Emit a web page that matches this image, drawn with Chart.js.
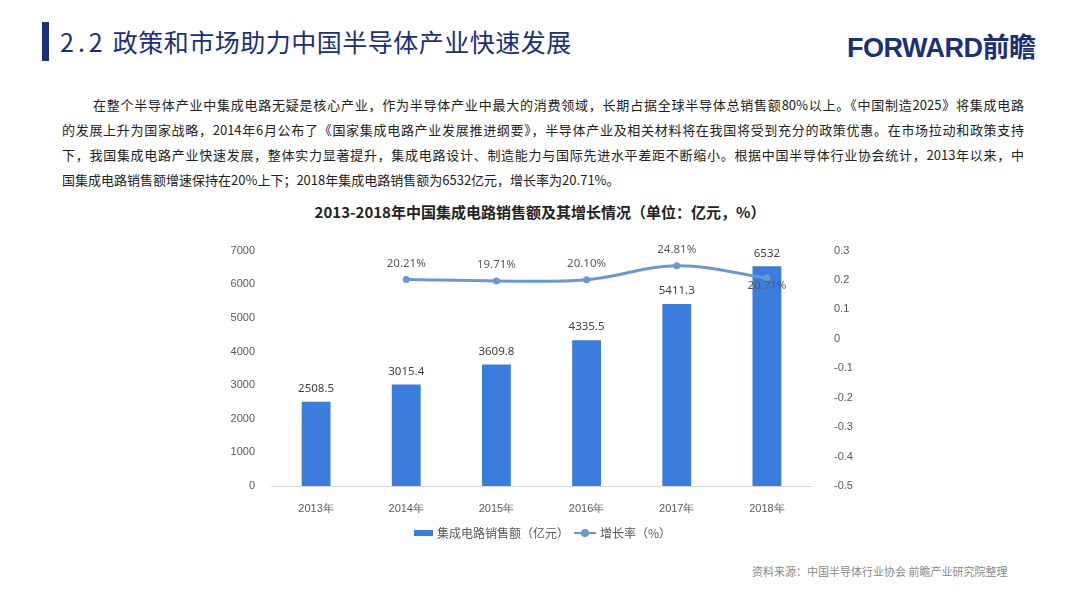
<!DOCTYPE html>
<html>
<head>
<meta charset="utf-8">
<script src="https://cdn.jsdelivr.net/npm/chart.js@4.4.0/dist/chart.umd.min.js"></script>
<style>
  html, body { margin: 0; padding: 0; background: #ffffff; }
  body { width: 1080px; height: 595px; position: relative; overflow: hidden;
         font-family: "Noto Sans CJK SC", "Noto Sans", sans-serif; }
  .bar-mark { position: absolute; left: 42px; top: 22px; width: 7px; height: 39px; background: #1b2f7a; }
  .page-title { position: absolute; left: 60px; top: 23px; font-size: 25px; color: #1b2f7a; letter-spacing: 0.5px; }
  .page-title .num { letter-spacing: 4px; margin-right: 6px; }
  .logo { position: absolute; left: 847px; top: 26px; font-size: 27px; font-weight: 700; color: #1b2f7a;
          font-family: "Liberation Sans", "Noto Sans CJK SC", sans-serif; letter-spacing: -0.5px; }
  .intro { position: absolute; left: 62px; top: 92px; width: 962px; font-size: 13px; line-height: 25px; color: #222; }
  .intro div { text-align: justify; text-align-last: justify; white-space: nowrap; }
  .intro div.first { padding-left: 31px; }
  .intro div.last { text-align-last: left; }
  .chart-title { position: absolute; left: 0; width: 1080px; top: 201px; text-align: center;
                 font-size: 15px; font-weight: 700; color: #222; }
  #wrap { position: absolute; left: 200px; top: 230px; width: 680px; height: 296px; }
  .legend { position: absolute; top: 524px; font-size: 12px; color: #595959; display: flex; align-items: center; }
  .sw-bar { display: inline-block; width: 19px; height: 6px; background: #3b7ddd; margin-right: 4px; }
  .sw-line { display: inline-block; position: relative; width: 22px; height: 10px; margin-right: 4px; }
  .sw-line::before { content: ""; position: absolute; left: 0; right: 0; top: 4px; height: 2px; background: #6b98d2; }
  .sw-line::after { content: ""; position: absolute; left: 7px; top: 1px; width: 8px; height: 8px; border-radius: 50%; background: #6b98d2; }
  .source { position: absolute; left: 752px; top: 563px; font-size: 11px; color: #8a8a8a; }
</style>
</head>
<body>
<div class="bar-mark"></div>
<div class="page-title"><span class="num">2.2</span>政策和市场助力中国半导体产业快速发展</div>
<div class="logo">FORWARD前瞻</div>
<div class="intro">
  <div class="first">在整个半导体产业中集成电路无疑是核心产业，作为半导体产业中最大的消费领域，长期占据全球半导体总销售额80%以上。《中国制造2025》将集成电路</div>
  <div>的发展上升为国家战略，2014年6月公布了《国家集成电路产业发展推进纲要》，半导体产业及相关材料将在我国将受到充分的政策优惠。在市场拉动和政策支持</div>
  <div>下，我国集成电路产业快速发展，整体实力显著提升，集成电路设计、制造能力与国际先进水平差距不断缩小。根据中国半导体行业协会统计，2013年以来，中</div>
  <div class="last">国集成电路销售额增速保持在20%上下；2018年集成电路销售额为6532亿元，增长率为20.71%。</div>
</div>
<div class="chart-title">2013-2018年中国集成电路销售额及其增长情况（单位：亿元，%）</div>
<div id="wrap"><canvas id="chart"></canvas></div>
<div class="legend" style="left:414px;"><span class="sw-bar"></span>集成电路销售额（亿元）</div>
<div class="legend" style="left:574px;"><span class="sw-line"></span>增长率（%）</div>
<div class="source">资料来源：中国半导体行业协会 前瞻产业研究院整理</div>

<script>
// chart data
const years = ['2013年', '2014年', '2015年', '2016年', '2017年', '2018年'];
const sales = [2508.5, 3015.4, 3609.8, 4335.5, 5411.3, 6532];
const growth = [null, 0.2021, 0.1971, 0.2010, 0.2481, 0.2071];
const growthLabels = ['', '20.21%', '19.71%', '20.10%', '24.81%', '20.71%'];

const BAR_COLOR = '#3b7ddd';
const LINE_COLOR = '#6b98d2';
const TICK_COLOR = '#595959';

// simple value labels above bars and line points
const valueLabels = {
  id: 'valueLabels',
  afterDatasetsDraw(chart) {
    const ctx = chart.ctx;
    ctx.save();
    ctx.font = '11.5px "Noto Sans", "DejaVu Sans", sans-serif';
    ctx.fillStyle = '#404040';
    ctx.textAlign = 'center';
    ctx.textBaseline = 'middle';
    chart.getDatasetMeta(0).data.forEach((bar, i) => {
      ctx.fillText(String(sales[i]), bar.x, bar.y - 13);
    });
    ctx.fillStyle = TICK_COLOR;
    chart.getDatasetMeta(1).data.forEach((pt, i) => {
      if (growth[i] === null) return;
      // last label sits under the point in the original
      const dy = i === growth.length - 1 ? 8 : -16;
      ctx.fillText(growthLabels[i], pt.x, pt.y + dy);
    });
    ctx.restore();
  }
};

new Chart(document.getElementById('chart'), {
  type: 'bar',
  data: {
    labels: years,
    datasets: [
      {
        label: '集成电路销售额（亿元）',
        data: sales,
        backgroundColor: BAR_COLOR,
        barPercentage: 0.32,
        categoryPercentage: 1,
        yAxisID: 'y',
        order: 2,
      },
      {
        label: '增长率（%）',
        type: 'line',
        data: growth,
        borderColor: LINE_COLOR,
        backgroundColor: LINE_COLOR,
        borderWidth: 3,
        pointRadius: 3.5,
        pointBackgroundColor: LINE_COLOR,
        pointBorderWidth: 0,
        tension: 0.4,
        yAxisID: 'y1',
        order: 1,
      },
    ],
  },
  options: {
    responsive: true,
    maintainAspectRatio: false,
    animation: false,
    layout: { padding: { top: 8, bottom: 0, left: 0, right: 0 } },
    plugins: {
      legend: { display: false },
      tooltip: { enabled: false },
    },
    scales: {
      x: {
        grid: { display: false },
        border: { display: true, color: '#d9d9d9', width: 1 },
        ticks: { color: TICK_COLOR, font: { size: 11 }, padding: 8 },
        afterFit(scale) { scale.height = 40; },
      },
      y: {
        position: 'left',
        min: 0,
        max: 7000,
        grid: { display: false },
        border: { display: false },
        ticks: { stepSize: 1000, color: TICK_COLOR, font: { size: 11 }, padding: 8,
                 callback: v => String(v) },
        afterFit(scale) { scale.width = 71; },
      },
      y1: {
        position: 'right',
        min: -0.5,
        max: 0.3,
        grid: { display: false },
        border: { display: false },
        ticks: {
          stepSize: 0.1,
          color: TICK_COLOR,
          font: { size: 11 },
          padding: 14,
          callback: v => String(Number(v.toFixed(1))),
        },
        afterFit(scale) { scale.width = 68; },
      },
    },
  },
  plugins: [valueLabels],
});
</script>
</body>
</html>
